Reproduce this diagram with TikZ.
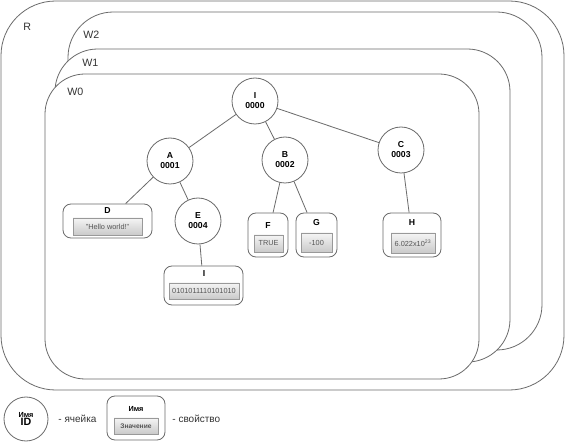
\documentclass[tikz,border=0pt]{standalone}
\usepackage{fontspec}
\setmainfont{Liberation Sans}
\usepackage{xcolor}
\definecolor{lgray}{HTML}{6b6b6b}
\definecolor{valtext}{HTML}{555555}

\begin{document}
\begin{tikzpicture}[x=0.75pt,y=0.75pt,yscale=-1,xscale=1,line width=0.6pt,
	win/.style={draw=lgray,fill=white},
	cell/.style={circle,draw=lgray,fill=white,minimum size=34.5pt,inner sep=0pt,align=center,font=\fontsize{6.5}{7.5}\selectfont\bfseries},
	prop/.style={rectangle,rounded corners=6pt,draw=lgray,fill=white,inner sep=0pt},
	val/.style={rectangle,draw=gray!80,line width=0.5pt,top color=gray!8,bottom color=gray!42,inner sep=0pt,text=valtext,font=\fontsize{5.5}{6}\selectfont},
	lbl/.style={inner sep=0.75pt,font=\fontsize{6.5}{7.5}\selectfont\bfseries},
	wname/.style={anchor=west,inner sep=0.75pt,text=black!80,font=\fontsize{8}{9}\selectfont}]
\useasboundingbox (0,0) rectangle (565,442);
% windows
\draw [win,rounded corners=41pt] (1,1) rectangle (564,390);
\draw [win,rounded corners=34pt] (68,12) rectangle (542,350);
\draw [win,rounded corners=32pt] (55,49) rectangle (510,362);
\draw [win,rounded corners=30pt] (45,74) rectangle (479,379);
\node [wname] (nR) at (22,27) {R};
\node [wname] (nW2) at (82,35) {W2};
\node [wname] (nW1) at (81,63) {W1};
\node [wname] (nW0) at (66,92) {W0};
% cells
\node [cell] (I) at (255,101) {I\\0000};
\node [cell] (A) at (170,161) {A\\0001};
\node [cell] (B) at (285,160) {B\\0002};
\node [cell] (C) at (401,150) {C\\0003};
\node [cell] (E) at (198,221) {E\\0004};
% properties
\node [prop,minimum width=66.75pt,minimum height=25.5pt] (D) at (107.5,221) {};
\node [lbl] (Dn) at (107.5,211) {D};
\node [val,minimum width=51.75pt,minimum height=12.75pt] (Dv) at (107.5,226.5) {"Hello world!"};
\node [prop,minimum width=59.25pt,minimum height=29.25pt] (Ip) at (203.5,285.5) {};
\node [lbl] (Ipn) at (204,274) {I};
\node [val,minimum width=52.5pt,minimum height=12pt] (Ipv) at (204,291) {0101011110101010};
\node [prop,minimum width=30pt,minimum height=33pt] (F) at (268,235) {};
\node [lbl] (Fn) at (268,226) {F};
\node [val,minimum width=21.75pt,minimum height=12.75pt] (Fv) at (268.5,243.5) {TRUE};
\node [prop,minimum width=30.75pt,minimum height=33pt] (G) at (316.5,235) {};
\node [lbl] (Gn) at (316.5,223) {G};
\node [val,minimum width=23.25pt,minimum height=14.25pt] (Gv) at (316.5,242.5) {-100};
\node [prop,minimum width=43.5pt,minimum height=33pt] (H) at (412,235) {};
\node [lbl] (Hn) at (412,223) {H};
\node [val,minimum width=33pt,minimum height=15pt] (Hv) at (413,243) {6.022x10\textsuperscript{23}};
% links
\draw [lgray] (I) -- (A);
\draw [lgray] (I) -- (B);
\draw [lgray] (I) -- (C);
\draw [lgray] (A) -- (D);
\draw [lgray] (A) -- (E);
\draw [lgray] (E) -- (Ip);
\draw [lgray] (B) -- (F);
\draw [lgray] (B) -- (G);
\draw [lgray] (C) -- (H);
% legend
\node [cell,minimum size=33pt] (Lc) at (26,419) {{\fontsize{5.5}{6.5}\selectfont Имя}\\[-1pt]{\fontsize{8}{9}\selectfont ID}};
\node [wname,font=\fontsize{7.5}{8.5}\selectfont] (Lct) at (57,419) {- ячейка};
\node [prop,minimum width=43.5pt,minimum height=33pt] (Lp) at (136,418) {};
\node [lbl,font=\fontsize{5.5}{6.5}\selectfont\bfseries] (Lpn) at (136,409) {Имя};
\node [val,minimum width=33pt,minimum height=12pt,font=\fontsize{5}{6}\selectfont\bfseries] (Lpv) at (136,426) {Значение};
\node [wname,font=\fontsize{7.5}{8.5}\selectfont] (Lpt) at (171,419) {- свойство};
\end{tikzpicture}
\end{document}
